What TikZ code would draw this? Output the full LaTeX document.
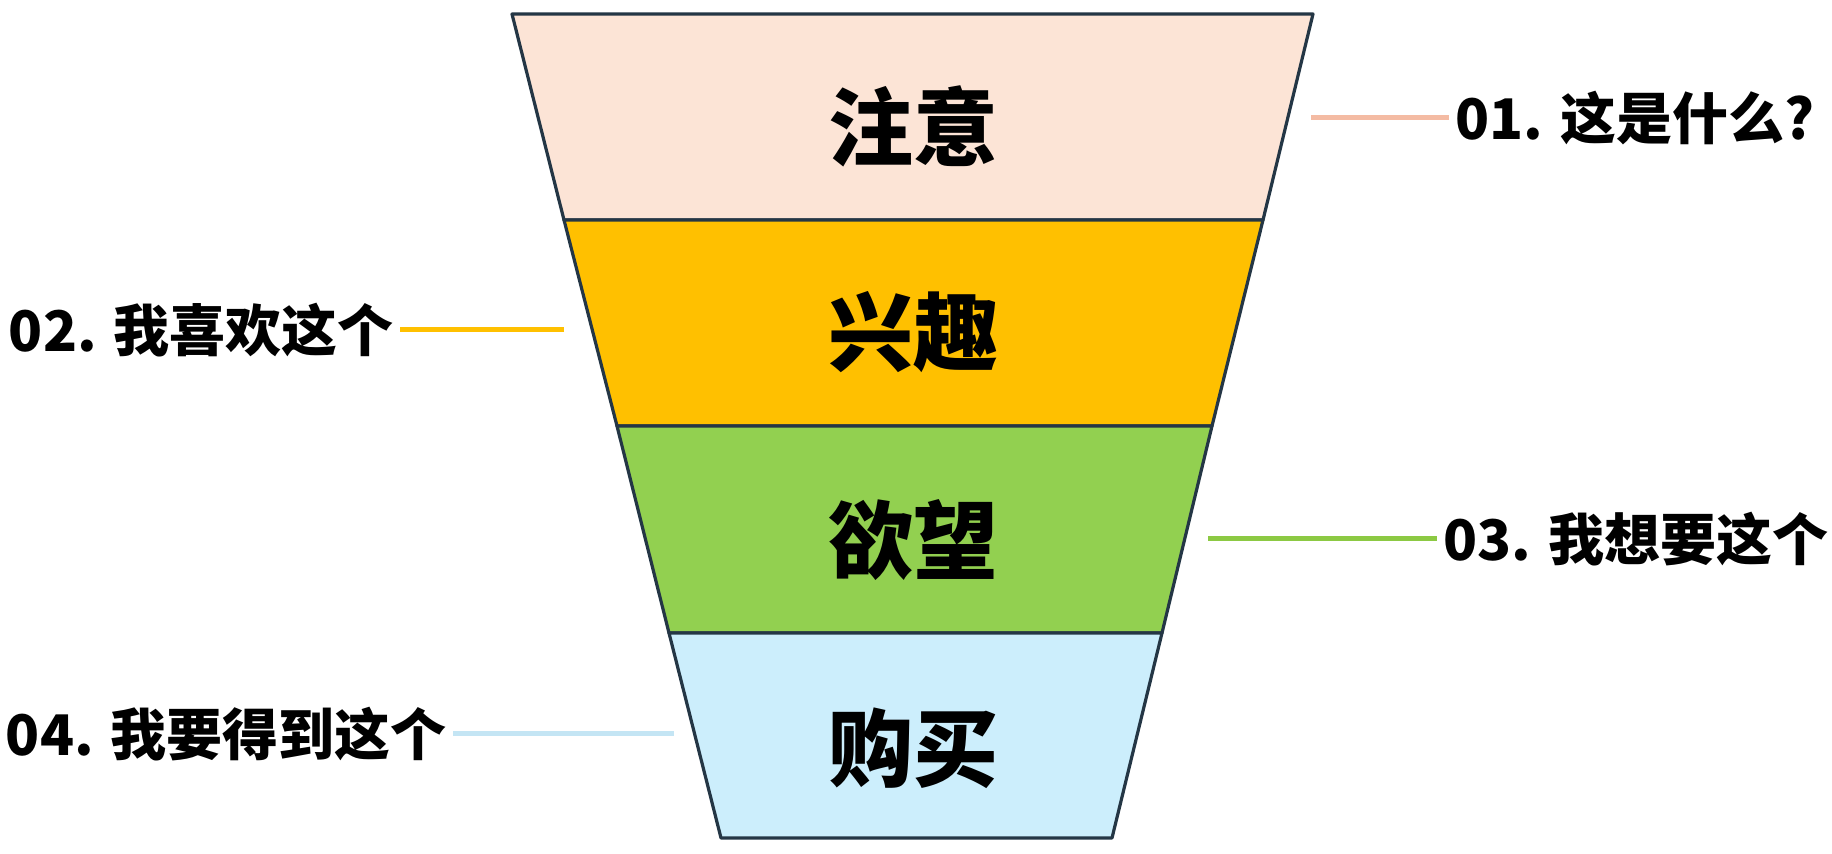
\documentclass[tikz,border=0pt]{standalone}
\usepackage{fontspec}
\setmainfont{Noto Sans CJK SC}
\definecolor{edgec}{HTML}{243645}
\definecolor{cA}{HTML}{FCE4D6}
\definecolor{cB}{HTML}{FFC000}
\definecolor{cC}{HTML}{92D050}
\definecolor{cD}{HTML}{CCEEFC}
\definecolor{lA}{HTML}{F4BBA3}
\definecolor{lB}{HTML}{FFC000}
\definecolor{lC}{HTML}{8CC943}
\definecolor{lD}{HTML}{C4E5F4}
\begin{document}
\begin{tikzpicture}[x=0.5pt,y=-0.5pt,
  band/.style={draw=edgec, line width=1.6pt, line join=round},
  big/.style={font=\fontsize{42.5}{46}\selectfont\bfseries, inner sep=0pt},
  lab/.style={font=\fontsize{28}{32}\selectfont\bfseries, inner xsep=3pt, inner ysep=0pt},
  conn/.style={line width=2.5pt}]
\useasboundingbox (0,0) rectangle (1832,854);
% funnel corners
\coordinate (L0) at (512,14);   \coordinate (R0) at (1313,14);
\coordinate (L1) at (564,220);  \coordinate (R1) at (1263,220);
\coordinate (L2) at (617,426);  \coordinate (R2) at (1212,426);
\coordinate (L3) at (669,633);  \coordinate (R3) at (1162,633);
\coordinate (L4) at (721,838);  \coordinate (R4) at (1112,838);
\draw[band, fill=cA] (L0) -- (R0) -- (R1) -- (L1) -- cycle;
\draw[band, fill=cB] (L1) -- (R1) -- (R2) -- (L2) -- cycle;
\draw[band, fill=cC] (L2) -- (R2) -- (R3) -- (L3) -- cycle;
\draw[band, fill=cD] (L3) -- (R3) -- (R4) -- (L4) -- cycle;
% band labels
\node[big] (n1) at (913,126) {注意};
\node[big] (n2) at (913,332) {兴趣};
\node[big] (n3) at (913,540) {欲望};
\node[big] (n4) at (913,748) {购买};
% side labels
\node[lab, anchor=west] (t1) at (1449,118) {01.\hspace{0.3em}这是什么?};
\node[lab, anchor=east] (t2) at (400,330) {02.\hspace{0.3em}我喜欢这个};
\node[lab, anchor=west] (t3) at (1437,539) {03.\hspace{0.3em}我想要这个};
\node[lab, anchor=east] (t4) at (453,734) {04.\hspace{0.3em}我要得到这个};
% connector ends at the funnel
\coordinate (s1) at (1311,118);
\coordinate (s2) at (564,330);
\coordinate (s3) at (1208,539);
\coordinate (s4) at (674,734);
\draw[conn, draw=lA] (s1) -- (t1.west);
\draw[conn, draw=lB] (s2) -- (t2.east);
\draw[conn, draw=lC] (s3) -- (t3.west);
\draw[conn, draw=lD] (s4) -- (t4.east);
\end{tikzpicture}
\end{document}
